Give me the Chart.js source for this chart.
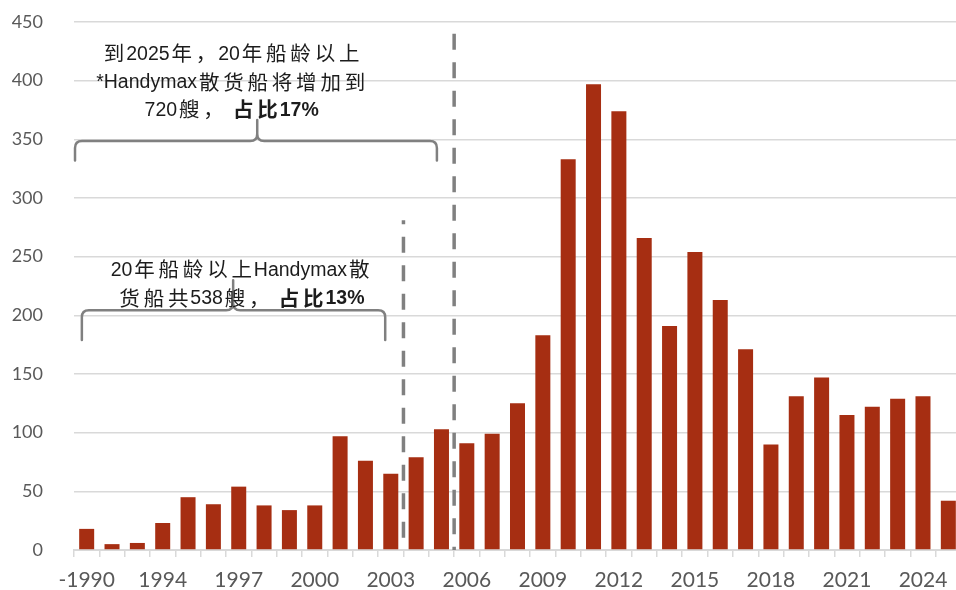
<!DOCTYPE html>
<html>
<head>
<meta charset="utf-8">
<script src="https://cdn.jsdelivr.net/npm/chart.js@4"></script>
<style>
  html, body { margin: 0; padding: 0; background: #ffffff; overflow: hidden; }
  canvas { display: block; }
</style>
</head>
<body>
<canvas id="chart" width="961" height="590"></canvas>
<script>
// Handymax bulk carriers by year built
const categories = ['-1990', '1992', '1993', '1994', '1995', '1996', '1997', '1998', '1999', '2000',
  '2001', '2002', '2003', '2004', '2005', '2006', '2007', '2008', '2009', '2010',
  '2011', '2012', '2013', '2014', '2015', '2016', '2017', '2018', '2019', '2020',
  '2021', '2022', '2023', '2024', '2025'];
const shipCounts = [18, 5, 6, 23, 45, 39, 54, 38, 34, 38,
  97, 76, 65, 79, 103, 91, 99, 125, 183, 333,
  397, 374, 266, 191, 254, 213, 171, 90, 131, 147,
  115, 122, 129, 131, 42];
const yTicks = [0, 50, 100, 150, 200, 250, 300, 350, 400, 450];

const BAR_COLOR = '#A62E12';
const GRID = '#d9d9d9';
const AXIS_TEXT = '#595959';
const NOTE_TEXT = '#1c1c1c';
const NOTE_LINE = '#808080';

const LATIN = '"Liberation Sans", Arial, sans-serif';
const CJK = '"Noto Sans CJK SC", sans-serif';

// Callout texts, line by line; bold runs marked with b:true
const note2025 = [
  [{ t: '到2025年，20年船龄以上' }],
  [{ t: '*Handymax散货船将增加到' }],
  [{ t: '720艘， ' }, { t: '占比17%', b: true }]
];
const noteNow = [
  [{ t: '20年船龄以上Handymax散' }],
  [{ t: '货船共538艘， ' }, { t: '占比13%', b: true }]
];

const LATIN_SIZE = 19.5;
const CJK_SIZE = 20.5;
const CJK_ADVANCE = 24.3;

function isWide(ch) { return ch.charCodeAt(0) >= 0x2E80; }

function runWidth(ctx, line) {
  let w = 0;
  for (const seg of line) {
    for (const ch of seg.t) {
      if (isWide(ch)) { w += CJK_ADVANCE; }
      else {
        ctx.font = (seg.b ? 'bold ' : '') + LATIN_SIZE + 'px ' + LATIN;
        w += ctx.measureText(ch).width;
      }
    }
  }
  return w;
}

function drawLine(ctx, line, cx, cy) {
  let x = cx - runWidth(ctx, line) / 2;
  ctx.textBaseline = 'middle';
  ctx.textAlign = 'left';
  ctx.fillStyle = NOTE_TEXT;
  for (const seg of line) {
    for (const ch of seg.t) {
      if (isWide(ch)) {
        ctx.font = (seg.b ? 'bold ' : '') + CJK_SIZE + 'px ' + CJK;
        const gw = ctx.measureText(ch).width;
        ctx.fillText(ch, x + (CJK_ADVANCE - gw) / 2, cy);
        x += CJK_ADVANCE;
      } else {
        ctx.font = (seg.b ? 'bold ' : '') + LATIN_SIZE + 'px ' + LATIN;
        ctx.fillText(ch, x, cy + 1);
        x += ctx.measureText(ch).width;
      }
    }
  }
}

function drawBrace(ctx, x1, x2, xm, yH, yEnd, yTip) {
  const r = 7;
  ctx.beginPath();
  ctx.moveTo(x1, yEnd);
  ctx.lineTo(x1, yH + r);
  ctx.quadraticCurveTo(x1, yH, x1 + r, yH);
  ctx.lineTo(xm - r, yH);
  ctx.quadraticCurveTo(xm, yH, xm, yH - r);
  ctx.lineTo(xm, yTip);
  ctx.moveTo(xm, yH - r);
  ctx.quadraticCurveTo(xm, yH, xm + r, yH);
  ctx.lineTo(x2 - r, yH);
  ctx.quadraticCurveTo(x2, yH, x2, yH + r);
  ctx.lineTo(x2, yEnd);
  ctx.stroke();
}

const calloutPlugin = {
  id: 'callouts',
  afterDatasetsDraw(chart) {
    const ctx = chart.ctx;
    const xs = chart.scales.x, ys = chart.scales.y;
    const x0 = xs.getPixelForValue(0);
    const step = xs.getPixelForValue(1) - x0;
    const px = i => x0 + i * step;       // fractional category index -> pixel
    const py = v => ys.getPixelForValue(v);

    ctx.save();
    // dashed separators between built-year groups
    ctx.strokeStyle = NOTE_LINE;
    ctx.lineWidth = 3.5;
    ctx.setLineDash([16, 12.5]);
    ctx.beginPath();
    ctx.moveTo(px(14.5), py(440));
    ctx.lineTo(px(14.5), py(0));
    ctx.stroke();
    ctx.lineDashOffset = 12;
    ctx.beginPath();
    ctx.moveTo(px(12.5), py(281));
    ctx.lineTo(px(12.5), py(0));
    ctx.stroke();
    ctx.setLineDash([]);

    // braces
    ctx.lineWidth = 2.5;
    ctx.lineCap = 'round';
    ctx.lineJoin = 'round';
    drawBrace(ctx, px(-0.46), px(13.82), px(6.73), py(348.5), py(332), py(366.5));
    drawBrace(ctx, px(-0.19), px(11.78), px(5.78), py(204.3), py(179), py(230));

    // callout texts
    const l1 = [423.4, 399.1, 375.6];
    note2025.forEach((ln, i) => drawLine(ctx, ln, px(5.72), py(l1[i])));
    const l2 = [239, 214.8];
    noteNow.forEach((ln, i) => drawLine(ctx, ln, px(6.09), py(l2[i])));
    ctx.restore();
  }
};

new Chart(document.getElementById('chart'), {
  type: 'bar',
  data: {
    labels: categories,
    datasets: [{
      data: shipCounts,
      backgroundColor: BAR_COLOR,
      borderWidth: 0,
      categoryPercentage: 1,
      barPercentage: 0.592
    }]
  },
  options: {
    responsive: false,
    animation: false,
    devicePixelRatio: 1,
    layout: { padding: { top: 22, right: 0, bottom: 0, left: 0 } },
    plugins: { legend: { display: false }, tooltip: { enabled: false } },
    scales: {
      x: {
        offset: true,
        grid: { display: true, drawOnChartArea: false, drawTicks: true, tickLength: 7, color: GRID, lineWidth: 1.5, offset: true },
        border: { display: true, color: GRID, width: 2 },
        ticks: {
          autoSkip: false,
          maxRotation: 0,
          padding: 11,
          color: AXIS_TEXT,
          font: { family: 'Lato, "Noto Sans", sans-serif', size: 21 },
          callback: (v, i) => (i % 3 === 0 ? categories[i] : '')
        },
        afterFit: s => { s.height = 40; }
      },
      y: {
        min: 0,
        max: 450,
        afterBuildTicks: s => { s.ticks = yTicks.map(v => ({ value: v })); },
        grid: { color: GRID, lineWidth: 1.5, drawTicks: false },
        border: { display: false },
        ticks: {
          padding: 31,
          color: AXIS_TEXT,
          font: { family: 'Lato, "Noto Sans", sans-serif', size: 18 }
        },
        afterFit: s => { s.width = 74; s.paddingTop = 0; s.paddingBottom = 0; }
      }
    }
  },
  plugins: [calloutPlugin]
});
</script>
</body>
</html>
